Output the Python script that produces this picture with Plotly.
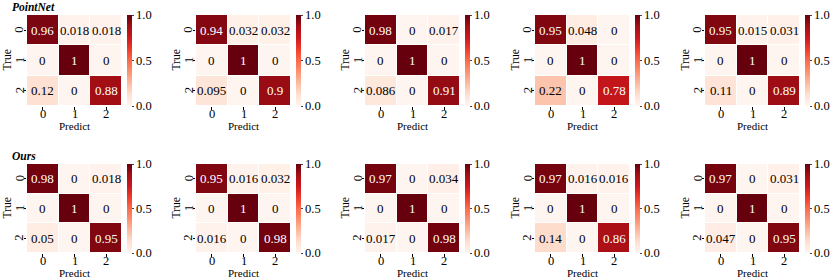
import plotly.graph_objects as go

W, H = 830, 280

classes = ["0", "1", "2"]
row_names = ["PointNet", "Ours"]
x_title = "Predict"
y_title = "True"

pointnet = [
    [[0.96, 0.018, 0.018], [0, 1, 0], [0.12, 0, 0.88]],
    [[0.94, 0.032, 0.032], [0, 1, 0], [0.095, 0, 0.9]],
    [[0.98, 0, 0.017], [0, 1, 0], [0.086, 0, 0.91]],
    [[0.95, 0.048, 0], [0, 1, 0], [0.22, 0, 0.78]],
    [[0.95, 0.015, 0.031], [0, 1, 0], [0.11, 0, 0.89]],
]
ours = [
    [[0.98, 0, 0.018], [0, 1, 0], [0.05, 0, 0.95]],
    [[0.95, 0.016, 0.032], [0, 1, 0], [0.016, 0, 0.98]],
    [[0.97, 0, 0.034], [0, 1, 0], [0.017, 0, 0.98]],
    [[0.97, 0.016, 0.016], [0, 1, 0], [0.14, 0, 0.86]],
    [[0.97, 0, 0.031], [0, 1, 0], [0.047, 0, 0.95]],
]
cbar_ticks = [0.0, 0.5, 1.0]
cbar_labels = ["0.0", "0.5", "1.0"]

reds = ['#fff5f0', '#fee0d2', '#fcbba1', '#fc9272', '#fb6a4a',
        '#ef3b2c', '#cb181d', '#a50f15', '#67000d']
cscale = [[i / (len(reds) - 1), c] for i, c in enumerate(reds)]

FONT = "Liberation Serif, Times New Roman, serif"
col_x0 = [27, 196, 365, 535, 705]
hm_w = 95
row_y = [(15, 106), (164, 253)]


def px_x(p):
    return p / W


def px_y(p):
    return 1 - p / H


fig = go.Figure()
annotations = []
idx = 0
for r, data in enumerate([pointnet, ours]):
    top, bot = row_y[r]
    for c, mat in enumerate(data):
        idx += 1
        xa = "x" if idx == 1 else f"x{idx}"
        ya = "y" if idx == 1 else f"y{idx}"
        x0 = col_x0[c]
        fig.add_trace(go.Heatmap(
            z=mat, x=[0, 1, 2], y=[0, 1, 2],
            colorscale=cscale, zmin=0, zmax=1,
            xgap=1, ygap=1,
            xaxis=xa, yaxis=ya,
            hoverinfo="skip",
            colorbar=dict(
                x=px_x(x0 + hm_w + 5), xanchor="left", xpad=0,
                y=px_y((top + bot) / 2), yanchor="middle", ypad=0,
                len=(bot - top) / H, lenmode="fraction",
                thickness=5, thicknessmode="pixels",
                outlinewidth=0,
                tickvals=cbar_ticks, ticktext=cbar_labels,
                ticks="outside", ticklen=2, tickwidth=0.8,
                tickfont=dict(family=FONT, size=12.5, color="black"),
            ),
        ))
        # cell values
        for i in range(3):
            for j in range(3):
                v = mat[i][j]
                annotations.append(dict(
                    x=j, y=i, xref=xa, yref=ya, text=format(v, ".2g"),
                    showarrow=False,
                    font=dict(family=FONT, size=13,
                              color="white" if v > 0.5 else "black"),
                ))
        # tick labels
        for k, lab in enumerate(classes):
            annotations.append(dict(
                x=k, y=px_y(bot + 7.5), xref=xa, yref="paper",
                xanchor="center", yanchor="middle", showarrow=False,
                text=lab, font=dict(family=FONT, size=12.5, color="black"),
            ))
            annotations.append(dict(
                x=px_x(x0 - 7.5), y=k, xref="paper", yref=ya,
                xanchor="center", yanchor="middle", showarrow=False,
                textangle=-90,
                text=lab, font=dict(family=FONT, size=12.5, color="black"),
            ))
        # axis titles
        annotations.append(dict(
            x=px_x(x0 + hm_w / 2), y=px_y(bot + 20), xref="paper",
            yref="paper", xanchor="center", yanchor="middle",
            showarrow=False, text=x_title,
            font=dict(family=FONT, size=11, color="black"),
        ))
        annotations.append(dict(
            x=px_x(x0 - 21), y=px_y((top + bot) / 2), xref="paper",
            yref="paper", xanchor="center", yanchor="middle",
            showarrow=False, text=y_title, textangle=-90,
            font=dict(family=FONT, size=11.5, color="black"),
        ))
        axkey = "xaxis" if idx == 1 else f"xaxis{idx}"
        aykey = "yaxis" if idx == 1 else f"yaxis{idx}"
        fig.layout[axkey] = dict(
            domain=[px_x(x0), px_x(x0 + hm_w)], anchor=ya, automargin=False,
            range=[-0.5, 2.5], tickvals=[0, 1, 2], showticklabels=False,
            ticks="outside", ticklen=2.5, tickwidth=0.8, tickcolor="black",
            showgrid=False, zeroline=False, showline=False,
        )
        fig.layout[aykey] = dict(
            domain=[px_y(bot), px_y(top)], anchor=xa, automargin=False,
            range=[2.5, -0.5], tickvals=[0, 1, 2], showticklabels=False,
            ticks="outside", ticklen=2.5, tickwidth=0.8, tickcolor="black",
            showgrid=False, zeroline=False, showline=False,
        )
    annotations.append(dict(
        x=px_x(10), y=px_y(top - 8.5), xref="paper", yref="paper",
        xanchor="left", yanchor="middle", showarrow=False,
        text=f"<b><i>{row_names[r]}</i></b>",
        font=dict(family=FONT, size=11.5, color="black"),
    ))

fig.update_layout(
    template="none",
    width=W, height=H, margin=dict(l=0, r=0, t=0, b=0, autoexpand=False),
    paper_bgcolor="white", plot_bgcolor="white",
    annotations=annotations, showlegend=False,
)
fig.write_html(
    "out.html",
    config={"displayModeBar": False},
    post_script="document.body.style.margin='0';document.body.style.padding='0';",
)
